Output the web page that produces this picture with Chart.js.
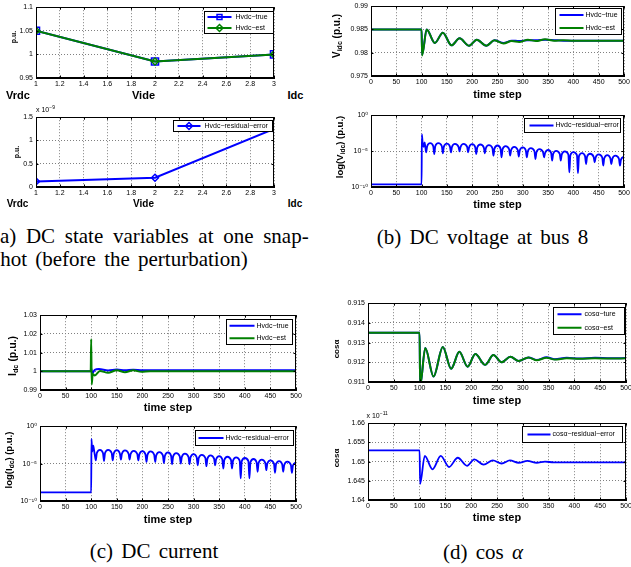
<!DOCTYPE html>
<html>
<head>
<meta charset="utf-8">
<script src="https://cdn.jsdelivr.net/npm/chart.js@4.4.1/dist/chart.umd.min.js"></script>
<style>
  body { margin: 0; background: #fff; width: 631px; height: 567px; overflow: hidden; position: relative;
         font-family: "Liberation Sans", Arial, sans-serif; }
  canvas { position: absolute; }
  .t { position: absolute; white-space: nowrap; line-height: 1; font-weight: bold; color: #000;
       transform: translate(-50%, -50%); }
  .r { transform: translate(-50%, -50%) rotate(-90deg); }
  .s { font-size: 0.7em; position: relative; top: 0.25em; }
  .x { position: absolute; white-space: nowrap; line-height: 1; font-size: 7px; }
  .e { font-size: 5px; position: relative; top: -3px; }
  .cap { position: absolute; white-space: nowrap; line-height: 1; font-size: 21px;
         font-family: "Liberation Serif", "Times New Roman", serif; color: #000; }
  .c { transform: translateX(-50%); word-spacing: 3px; }
</style>
</head>
<body>
<canvas id="a1"></canvas>
<canvas id="a2"></canvas>
<canvas id="b1"></canvas>
<canvas id="b2"></canvas>
<canvas id="c1"></canvas>
<canvas id="c2"></canvas>
<canvas id="d1"></canvas>
<canvas id="d2"></canvas>

<!-- (a) -->
<div class="t r" style="left:12.5px;top:37px;font-size:7px">p.u.</div>
<div class="t" style="left:18px;top:95px;font-size:11px">Vrdc</div>
<div class="t" style="left:143.5px;top:95px;font-size:11px">Vide</div>
<div class="t" style="left:295.5px;top:95px;font-size:11px">Idc</div>
<div class="x" style="left:36px;top:106px">x 10<span class="e">−9</span></div>
<div class="t r" style="left:15.5px;top:152px;font-size:7px">p.u.</div>
<div class="t" style="left:17.5px;top:203.5px;font-size:10px">Vrdc</div>
<div class="t" style="left:143.5px;top:203.5px;font-size:10px">Vide</div>
<div class="t" style="left:295px;top:203.5px;font-size:10px">Idc</div>
<div class="cap" style="left:-7px;top:226.4px;word-spacing:4.4px">(a) DC state variables at one snap-</div>
<div class="cap" style="left:-8px;top:249.4px;word-spacing:3px">shot (before the perturbation)</div>

<!-- (b) -->
<div class="t r" style="left:337px;top:36px;font-size:10px">V<span class="s">idc</span> (p.u.)</div>
<div class="t" style="left:497.5px;top:93.5px;font-size:11px">time step</div>
<div class="t r" style="left:340px;top:147px;font-size:9.5px">log(V<span class="s">idc</span>) (p.u.)</div>
<div class="t" style="left:497.5px;top:203.5px;font-size:11px">time step</div>
<div class="cap c" style="left:482.5px;top:227.4px">(b) DC voltage at bus 8</div>

<!-- (c) -->
<div class="t r" style="left:11.7px;top:356px;font-size:10.5px">I<span class="s">dc</span> (p.u.)</div>
<div class="t" style="left:168px;top:406.5px;font-size:11px">time step</div>
<div class="t r" style="left:9px;top:460px;font-size:9.5px">log(I<span class="s">dc</span>) (p.u.)</div>
<div class="t" style="left:168px;top:518.5px;font-size:11px">time step</div>
<div class="cap c" style="left:154px;top:540.7px">(c) DC current</div>

<!-- (d) -->
<div class="t r" style="left:337px;top:349px;font-size:8px">cosα</div>
<div class="t" style="left:497px;top:399.5px;font-size:11px">time step</div>
<div class="x" style="left:366.5px;top:412px">x 10<span class="e">−11</span></div>
<div class="t r" style="left:337px;top:457.5px;font-size:8px">cosα</div>
<div class="t" style="left:497px;top:517px;font-size:11px">time step</div>
<div class="cap c" style="left:483px;top:542.4px">(d) cos <i>α</i></div>

<script>
// ---------- (a) DC state variables at one snapshot ----------
const aCats = [1, 2, 3];                 // Vrdc, Vide, Idc
const aTrue = [1.05, 0.985, 1.0];
const aEst = [1.05, 0.985, 1.0];
const aResidual = [1.2e-10, 2.0e-10, 1.25e-9];
const aXTicks = [1, 1.2, 1.4, 1.6, 1.8, 2, 2.2, 2.4, 2.6, 2.8, 3];
const aXLabels = ['1', '1.2', '1.4', '1.6', '1.8', '2', '2.2', '2.4', '2.6', '2.8', '3'];
const aYTicks = [0.95, 1, 1.05, 1.1];
const aYLabels = ['0.95', '1', '1.05', '1.1'];
const aRTicks = [0, 0.5e-9, 1e-9, 1.5e-9];
const aRLabels = ['0', '0.5', '1', '1.5'];

// shared time axis
const stepTicks = [0, 50, 100, 150, 200, 250, 300, 350, 400, 450, 500];
const stepLabels = ['0', '50', '100', '150', '200', '250', '300', '350', '400', '450', '500'];

// ---------- (b) DC voltage at bus 8 ----------
const vSteps = [0, 100, 101, 110, 126, 142, 159, 175, 194, 209, 228, 244, 262, 278, 293, 310, 326, 344, 362, 380, 400, 430, 500];
const vTrue = [0.985, 0.985, 0.9796, 0.985, 0.9821, 0.9843, 0.9816, 0.9831, 0.9815, 0.9828, 0.9815, 0.9827, 0.9821, 0.9826, 0.9825, 0.9827, 0.9827, 0.9828, 0.9827, 0.9826, 0.98255, 0.98255, 0.98255];
const vEst = [0.985, 0.985, 0.9794, 0.985, 0.9821, 0.9843, 0.9816, 0.9831, 0.9815, 0.9828, 0.9815, 0.9827, 0.9820, 0.9825, 0.9823, 0.9828, 0.9825, 0.9829, 0.9826, 0.9827, 0.98255, 0.98255, 0.98255];
const vTicks = [0.975, 0.98, 0.985, 0.99];
const vLabels = ['0.975', '0.98', '0.985', '0.99'];

// residual errors (log plots), same sampling for voltage and current:
// each row after the jump = [before dip, dip, after dip, top of arch]
const resSteps = [0, 100, 100.5, 102, 104, 106,
  107, 109, 111, 117,   123, 125, 127, 133,   140, 142, 144, 150,   156, 158, 160, 166,
  173, 175, 177, 183,   190, 192, 194, 200,   206, 208, 210, 216,   223, 225, 227, 233,
  240, 242, 244, 250,   256, 258, 260, 266,   273, 275, 277, 283,   290, 292, 294, 300,
  306, 308, 310, 316,   323, 325, 327, 333,   340, 342, 344, 350,   356, 358, 360, 366,
  373, 375, 377, 383,   390, 392, 394, 400,   407, 409, 411, 417,   423, 425, 427, 433,
  440, 442, 444, 450,   457, 459, 461, 467,   473, 475, 477, 483,   490, 492, 494, 500];
const vResidual = [2.3e-10, 2.3e-10, 2.2e-3, 1.5e-4, 4e-5, 1.6e-4,
  6e-5, 6.6e-6, 4.7e-5, 1.26e-4,      4.7e-5, 3.9e-6, 4.7e-5, 1.26e-4,    4.7e-5, 4.8e-6, 4.2e-5, 1.13e-4,
  4.2e-5, 6.6e-6, 3.8e-5, 1.02e-4,    3.8e-5, 9e-6, 3.8e-5, 1.02e-4,      3.8e-5, 6.6e-6, 3.4e-5, 9.2e-5,
  3.4e-5, 3.9e-6, 3.1e-5, 8.3e-5,     3.1e-5, 4.8e-6, 2.5e-5, 6.7e-5,     2.5e-5, 2.3e-6, 2.2e-5, 6.0e-5,
  2.2e-5, 1.35e-6, 1.8e-5, 4.9e-5,    1.8e-5, 2.3e-6, 1.4e-5, 3.9e-5,     1.4e-5, 1.7e-6, 1.2e-5, 3.2e-5,
  1.2e-5, 1.35e-6, 9.6e-6, 2.6e-5,    9.6e-6, 8e-7, 7e-6, 1.9e-5,         7e-6, 1.35e-6, 5.5e-6, 1.5e-5,
  5.5e-6, 4.7e-7, 4.1e-6, 1.1e-5,     4.1e-6, 4.7e-7, 3.3e-6, 9e-6,       3.3e-6, 1.1e-8, 2.7e-6, 7.3e-6,
  2.7e-6, 8.5e-9, 2e-6, 5.3e-6,       2e-6, 1.6e-7, 1.6e-6, 4.3e-6,       1.6e-6, 2.8e-7, 1.3e-6, 3.5e-6,
  1.3e-6, 9.6e-8, 1.0e-6, 2.8e-6,     1.0e-6, 1.6e-7, 8.5e-7, 2.3e-6,     8.5e-7, 9.6e-8, 6.5e-7, 1.7e-6];
const iResidual = [1.4e-9, 1.4e-9, 1.95e-2, 4e-4, 2.5e-3, 4e-4,
  1.5e-4, 2.7e-5, 2.6e-4, 6.9e-4,     2.6e-4, 2.2e-5, 2.6e-4, 6.9e-4,     2.6e-4, 2.7e-5, 2.3e-4, 6.3e-4,
  2.3e-4, 3.4e-5, 2.1e-4, 5.7e-4,     2.1e-4, 3.4e-5, 1.9e-4, 5.1e-4,     1.9e-4, 2.7e-5, 1.7e-4, 4.6e-4,
  1.7e-4, 1.66e-5, 1.55e-4, 4.2e-4,   1.55e-4, 1.66e-5, 1.26e-4, 3.4e-4,  1.26e-4, 1.2e-5, 1.15e-4, 3.1e-4,
  1.15e-4, 8.2e-6, 9.2e-5, 2.5e-4,    9.2e-5, 1e-5, 7.8e-5, 2.1e-4,       7.8e-5, 8.2e-6, 7e-5, 1.9e-4,
  7e-5, 6e-6, 5.5e-5, 1.5e-4,         5.5e-5, 4.5e-6, 4.6e-5, 1.25e-4,    4.6e-5, 6e-6, 3.7e-5, 1.0e-4,
  3.7e-5, 2.2e-6, 3.1e-5, 8.3e-5,     3.1e-5, 2.2e-6, 2.5e-5, 6.8e-5,     2.5e-5, 1.06e-7, 2.1e-5, 5.6e-5,
  2.1e-5, 1.06e-7, 1.5e-5, 4.1e-5,    1.5e-5, 8e-7, 1.26e-5, 3.4e-5,      1.26e-5, 1.33e-6, 1e-5, 2.7e-5,
  1e-5, 5.9e-7, 8.1e-6, 2.2e-5,       8.1e-6, 8e-7, 6.7e-6, 1.8e-5,       6.7e-6, 5.9e-7, 5.5e-6, 1.5e-5];
const logTicks = [1e-10, 1e-5, 1];
const logLabels = ['10⁻¹⁰', '10⁻⁵', '10⁰'];

// ---------- (c) DC current ----------
const iTrueSteps = [0, 99, 100, 102, 107, 115, 133, 150, 166, 182, 200, 500];
const iTrue = [1, 1, 1.0015, 0.9990, 1.0008, 1.0012, 1.0004, 1.0009, 1.0005, 1.0008, 1.0005, 1.0005];
const iEstSteps = [0, 99, 100, 101, 103, 107, 117, 133, 150, 166, 182, 198, 215, 500];
const iEst = [1, 1, 1.0172, 0.9930, 0.9985, 0.9978, 1.0002, 0.9992, 1.0006, 0.9995, 1.0005, 0.9997, 1.0, 1.0];
const iTicks = [0.99, 1, 1.01, 1.02, 1.03];
const iLabels = ['0.99', '1', '1.01', '1.02', '1.03'];

// ---------- (d) cos(alpha) ----------
const cSteps = [0, 100, 101, 111, 127, 145, 161, 177, 193, 208, 227, 243, 259, 276, 292, 311, 327, 346, 362, 385, 410, 440, 470, 500];
const cosTrue = [0.9135, 0.9135, 0.9108, 0.91273, 0.91128, 0.91278, 0.91167, 0.91253, 0.91178, 0.91242, 0.91187, 0.91237, 0.9120, 0.91228, 0.91207, 0.91225, 0.91212, 0.91225, 0.91216, 0.91223, 0.91219, 0.91223, 0.9122, 0.91222];
const cosEst = [0.9135, 0.9135, 0.9108, 0.91273, 0.91128, 0.91278, 0.91167, 0.91253, 0.91178, 0.91242, 0.91187, 0.91237, 0.9120, 0.91228, 0.91207, 0.91225, 0.9121, 0.91223, 0.91214, 0.9122, 0.91218, 0.9122, 0.91219, 0.9122];
const cosTicks = [0.911, 0.912, 0.913, 0.914, 0.915];
const cosLabels = ['0.911', '0.912', '0.913', '0.914', '0.915'];

const crSteps = [0, 100, 101, 110, 125, 141, 157, 174, 192, 206, 224, 242, 259, 275, 292, 309, 327, 343, 360, 400, 500];
const cosResidual = [1.6529e-11, 1.6529e-11, 1.6442e-11, 1.6515e-11, 1.6480e-11, 1.6515e-11, 1.6486e-11, 1.6510e-11, 1.6489e-11,
  1.6506e-11, 1.6492e-11, 1.6503e-11, 1.6495e-11, 1.6503e-11, 1.6497e-11, 1.6502e-11, 1.6497e-11, 1.6500e-11, 1.6498e-11, 1.6498e-11, 1.6498e-11];
const crTicks = [1.64e-11, 1.645e-11, 1.65e-11, 1.655e-11, 1.66e-11];
const crLabels = ['1.64', '1.645', '1.65', '1.655', '1.66'];

// ---------- drawing ----------
const BLUE = '#0000ff', GREEN = '#008000';
const FONT = '"Liberation Sans", "DejaVu Sans", Arial, sans-serif';
const M = {l: 34, t: 6, r: 8, b: 14};   // room around each plot area

const pts = (xs, ys) => xs.map((x, i) => ({x: x, y: ys[i]}));

function marker(ctx, style, x, y, r, color) {
  ctx.save();
  ctx.strokeStyle = color; ctx.lineWidth = 1.5;
  ctx.beginPath();
  if (style === 'rect') {
    const h = r * Math.SQRT1_2;
    ctx.rect(x - h, y - h, 2 * h, 2 * h);
  } else {
    ctx.moveTo(x - r, y); ctx.lineTo(x, y - r); ctx.lineTo(x + r, y); ctx.lineTo(x, y + r); ctx.closePath();
  }
  ctx.stroke();
  ctx.restore();
}

// matlab style box with inward ticks
const frame = {
  id: 'frame',
  afterDatasetsDraw(chart) {
    const {ctx, chartArea: a, scales} = chart;
    ctx.save();
    ctx.strokeStyle = '#000';
    ctx.lineWidth = 1;
    ctx.beginPath();
    scales.x.ticks.forEach(t => {
      const p = Math.round(scales.x.getPixelForValue(t.value)) + 0.5;
      ctx.moveTo(p, a.bottom); ctx.lineTo(p, a.bottom - 2.5);
      ctx.moveTo(p, a.top); ctx.lineTo(p, a.top + 2.5);
    });
    scales.y.ticks.forEach(t => {
      const p = Math.round(scales.y.getPixelForValue(t.value)) + 0.5;
      ctx.moveTo(a.left, p); ctx.lineTo(a.left + 2.5, p);
      ctx.moveTo(a.right, p); ctx.lineTo(a.right - 2.5, p);
    });
    ctx.stroke();
    ctx.strokeRect(Math.round(a.left) + 0.5, Math.round(a.top) + 0.5,
      Math.round(a.right - a.left) - 1, Math.round(a.bottom - a.top) - 1);
    ctx.restore();
  }
};

function boxLegend(o) {
  return {
    id: 'boxLegend',
    afterDraw(chart) {
      const {ctx, chartArea: a} = chart;
      const x = Math.round(a.right - o.right - o.w) + 0.5, y = Math.round(a.top + o.top) + 0.5;
      ctx.save();
      ctx.fillStyle = '#fff';
      ctx.fillRect(x, y, o.w, o.h);
      ctx.beginPath(); ctx.rect(x, y, o.w, o.h); ctx.clip();
      ctx.font = '7px ' + FONT;
      ctx.textBaseline = 'middle';
      const rh = o.h / o.items.length;
      o.items.forEach((it, i) => {
        const cy = y + rh * (i + 0.5);
        ctx.strokeStyle = it.color; ctx.lineWidth = 2;
        ctx.beginPath(); ctx.moveTo(x + o.l0, cy); ctx.lineTo(x + o.l1, cy); ctx.stroke();
        if (it.marker) marker(ctx, it.marker, x + (o.l0 + o.l1) / 2, cy, 3.5, it.color);
        ctx.fillStyle = '#000';
        ctx.fillText(it.text, x + o.tx, cy);
      });
      ctx.restore();
      ctx.save();
      ctx.strokeStyle = '#000'; ctx.lineWidth = 1;
      ctx.strokeRect(x, y, o.w, o.h);
      ctx.restore();
    }
  };
}

function axis(o, horizontal) {
  return {
    type: o.type || 'linear',
    min: o.min, max: o.max,
    afterBuildTicks: s => { s.ticks = o.ticks.map(v => ({value: v})); },
    afterFit: s => { if (horizontal) s.height = M.b; else s.width = M.l; },
    grid: {color: '#808080', lineWidth: 1, drawTicks: false},
    border: {color: '#000', width: 1, dash: [1, 2]},
    ticks: {
      autoSkip: false, maxRotation: 0, minRotation: 0, padding: horizontal ? 2 : 3,
      color: '#000', font: {family: FONT, size: 7},
      callback: (v, i) => o.labels[i]
    }
  };
}

// area = [left, top, right, bottom] of the plot box on the page
function makeChart(id, area, datasets, xo, yo, legend) {
  const cv = document.getElementById(id);
  const w = area[2] - area[0] + M.l + M.r, h = area[3] - area[1] + M.t + M.b;
  cv.width = w; cv.height = h;
  cv.style.width = w + 'px'; cv.style.height = h + 'px';
  cv.style.left = (area[0] - M.l) + 'px'; cv.style.top = (area[1] - M.t) + 'px';
  return new Chart(cv, {
    type: 'line',
    data: {datasets: datasets},
    options: {
      responsive: false, animation: false, devicePixelRatio: 1, events: [],
      layout: {padding: {left: 0, top: M.t, right: M.r, bottom: 0}},
      plugins: {legend: {display: false}, tooltip: {enabled: false}},
      elements: {point: {radius: 0}, line: {cubicInterpolationMode: 'monotone'}},
      scales: {x: axis(xo, true), y: axis(yo, false)}
    },
    plugins: [frame, boxLegend(legend)]
  });
}

const steps = {min: 0, max: 500, ticks: stepTicks, labels: stepLabels};
const lineDs = (label, data, color, order, width) => ({
  label: label, data: data, borderColor: color, borderWidth: width || 2, order: order, pointRadius: 0
});

// (a) top
makeChart('a1', [36, 6, 274, 78], [
  {label: 'Hvdc-true', data: pts(aCats, aTrue), borderColor: BLUE, borderWidth: 2, order: 1, tension: 0,
   cubicInterpolationMode: 'default', pointStyle: 'rect', pointRadius: 5, pointBorderWidth: 1.5,
   pointBorderColor: BLUE, pointBackgroundColor: 'rgba(0,0,0,0)'},
  {label: 'Hvdc-est', data: pts(aCats, aEst), borderColor: GREEN, borderWidth: 2, order: 0, tension: 0,
   cubicInterpolationMode: 'default', pointStyle: 'rectRot', pointRadius: 3.5, pointBorderWidth: 1.5,
   pointBorderColor: GREEN, pointBackgroundColor: 'rgba(0,0,0,0)'}
], {min: 1, max: 3, ticks: aXTicks, labels: aXLabels}, {min: 0.95, max: 1.1, ticks: aYTicks, labels: aYLabels},
{right: 1, top: 4, w: 69, h: 22, l0: 3, l1: 27, tx: 31, items: [
  {text: 'Hvdc−true', color: BLUE, marker: 'rect'}, {text: 'Hvdc−est', color: GREEN, marker: 'rectRot'}]});

// (a) bottom
makeChart('a2', [36, 116, 274, 187], [
  {label: 'Hvdc-residual-error', data: pts(aCats, aResidual), borderColor: BLUE, borderWidth: 2, tension: 0,
   cubicInterpolationMode: 'default', pointStyle: 'rectRot', pointRadius: 3.5, pointBorderWidth: 1.5,
   pointBorderColor: BLUE, pointBackgroundColor: 'rgba(0,0,0,0)'}
], {min: 1, max: 3, ticks: aXTicks, labels: aXLabels}, {min: 0, max: 1.5e-9, ticks: aRTicks, labels: aRLabels},
{right: 2, top: 3, w: 99, h: 11, l0: 4, l1: 27, tx: 31, items: [
  {text: 'Hvdc−residual−error', color: BLUE, marker: 'rectRot'}]});

// (b) top
makeChart('b1', [371, 5, 624, 76], [
  lineDs('Hvdc-true', pts(vSteps, vTrue), BLUE, 1),
  lineDs('Hvdc-est', pts(vSteps, vEst), GREEN, 0)
], steps, {min: 0.975, max: 0.99, ticks: vTicks, labels: vLabels},
{right: 3, top: 2, w: 66, h: 26, l0: 4, l1: 28, tx: 30, items: [
  {text: 'Hvdc−true', color: BLUE}, {text: 'Hvdc−est', color: GREEN}]});

// (b) bottom
makeChart('b2', [371, 114, 624, 187], [
  lineDs('Hvdc-residual-error', pts(resSteps, vResidual), BLUE, 0, 1.8)
], steps, {type: 'logarithmic', min: 1e-10, max: 1, ticks: logTicks, labels: logLabels},
{right: 4, top: 3, w: 96, h: 14, l0: 5, l1: 29, tx: 31, items: [
  {text: 'Hvdc−residual−error', color: BLUE}]});

// (c) top
makeChart('c1', [40, 314, 296, 390], [
  lineDs('Hvdc-true', pts(iTrueSteps, iTrue), BLUE, 1),
  lineDs('Hvdc-est', pts(iEstSteps, iEst), GREEN, 0)
], steps, {min: 0.99, max: 1.03, ticks: iTicks, labels: iLabels},
{right: 4, top: 4, w: 66, h: 25, l0: 3, l1: 28, tx: 30, items: [
  {text: 'Hvdc−true', color: BLUE}, {text: 'Hvdc−est', color: GREEN}]});

// (c) bottom
makeChart('c2', [40, 425, 296, 501], [
  lineDs('Hvdc-residual-error', pts(resSteps, iResidual), BLUE, 0, 1.8)
], steps, {type: 'logarithmic', min: 1e-10, max: 1, ticks: logTicks, labels: logLabels},
{right: 3, top: 4, w: 98, h: 15, l0: 3, l1: 28, tx: 30, items: [
  {text: 'Hvdc−residual−error', color: BLUE}]});

// (d) top
makeChart('d1', [368, 302, 626, 382], [
  lineDs('cosα-ture', pts(cSteps, cosTrue), BLUE, 1),
  lineDs('cosα-est', pts(cSteps, cosEst), GREEN, 0)
], steps, {min: 0.911, max: 0.915, ticks: cosTicks, labels: cosLabels},
{right: 2, top: 4, w: 71, h: 27, l0: 4, l1: 28, tx: 31, items: [
  {text: 'cosα−ture', color: BLUE}, {text: 'cosα−est', color: GREEN}]});

// (d) bottom
makeChart('d2', [368, 422, 626, 500], [
  lineDs('cosα-residual-error', pts(crSteps, cosResidual), BLUE, 0, 1.8)
], steps, {min: 1.64e-11, max: 1.66e-11, ticks: crTicks, labels: crLabels},
{right: 4, top: 3, w: 100, h: 16, l0: 5, l1: 28, tx: 30, items: [
  {text: 'cosα−residual−error', color: BLUE}]});
</script>
</body>
</html>
